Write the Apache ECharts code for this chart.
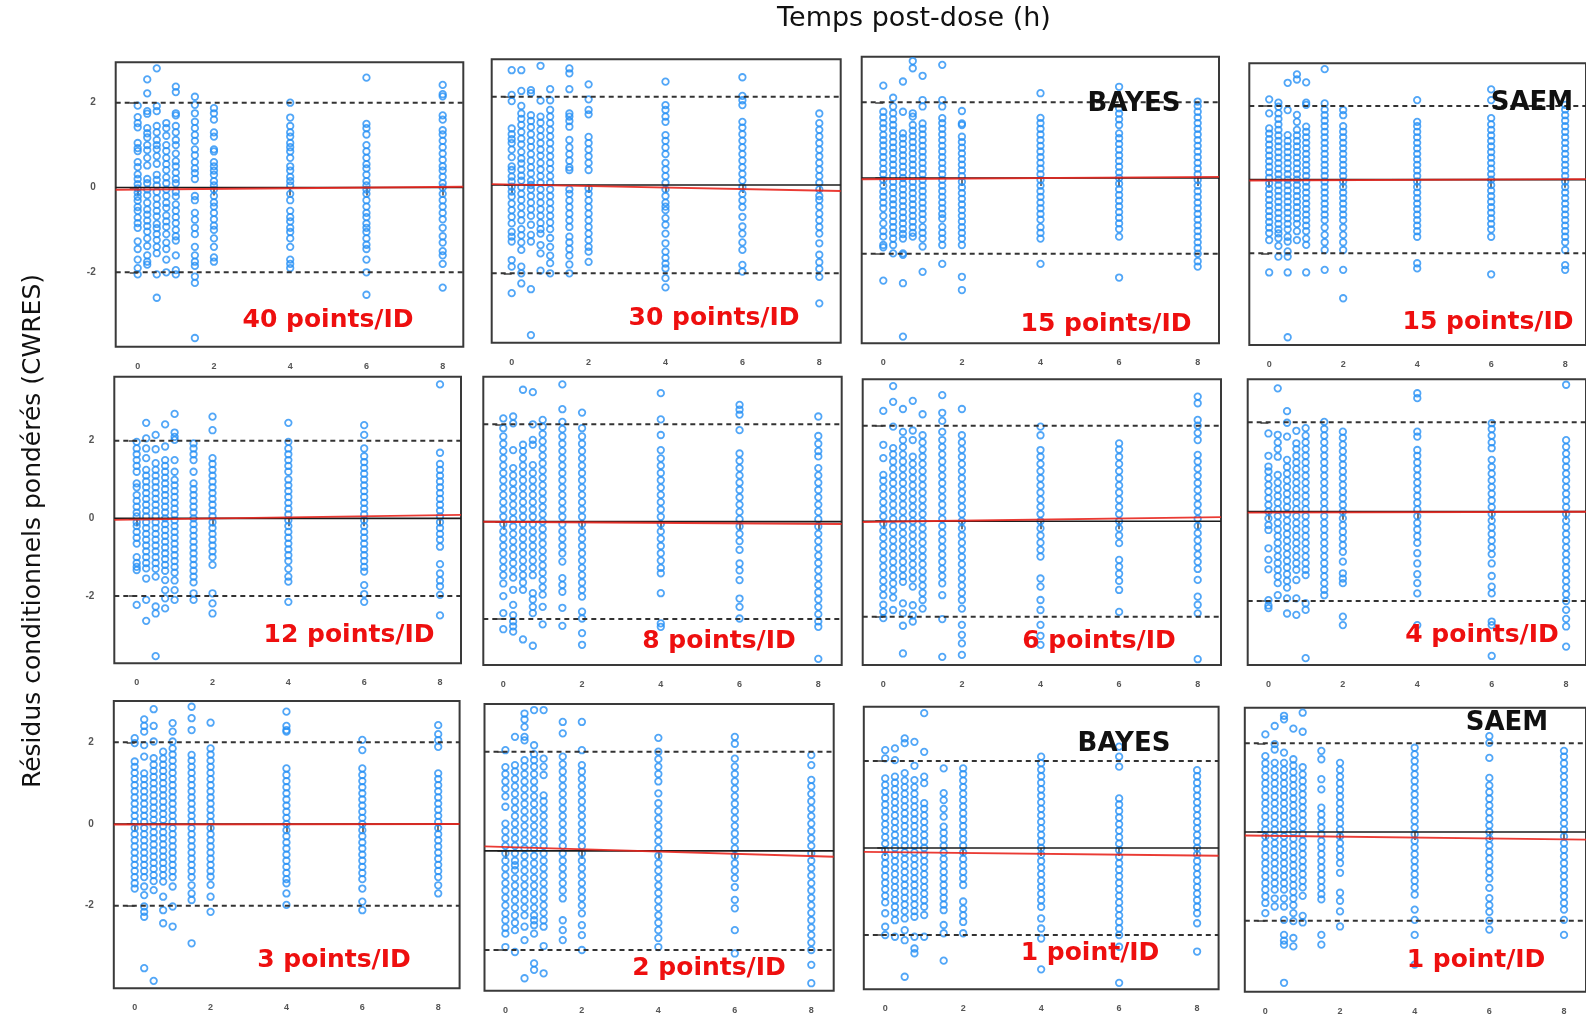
<!DOCTYPE html>
<html>
<head>
<meta charset="utf-8">
<script src="https://cdn.jsdelivr.net/npm/echarts@6/dist/echarts.min.js"></script>
<style>
  html, body { margin: 0; padding: 0; background: #ffffff; }
  #chart { width: 1586px; height: 1018px; }
</style>
</head>
<body>
<div id="chart"></div>
<script>
// Sampling times (h) shared by every panel
const times = [0, 0.25, 0.5, 0.75, 1, 1.5, 2, 4, 6, 8];
const xTicks = [0, 2, 4, 6, 8];
const yTicks = [-2, 0, 2];
const refBand = [-2, 2];

const panelTitles = ['40 points/ID', '30 points/ID', '15 points/ID', '15 points/ID',
                     '12 points/ID', '8 points/ID', '6 points/ID', '4 points/ID',
                     '3 points/ID', '2 points/ID', '1 point/ID', '1 point/ID'];
const methodTags = [null, null, 'BAYES', 'SAEM', null, null, null, null, null, null, 'BAYES', 'SAEM'];

// Fitted trend of CWRES vs time per panel: [intercept, slope]
const trend = [
  [-0.05, 0.008], [0.01, -0.017], [-0.03, 0.007], [-0.02, 0.004],
  [-0.03, 0.014], [-0.005, -0.005], [-0.01, 0.011], [-0.02, 0.002],
  [-0.01, 0.001], [0.077, -0.023], [-0.095, -0.0099], [-0.085, -0.01]
];

// CWRES values, one list per sampling time
const cwres40 = [
  [1.93,1.66,1.52,1.42,1.05,0.93,0.86,0.6,0.48,0.31,0.2,0.08,-0.02,-0.12,-0.22,-0.31,-0.46,-0.55,-0.71,-0.84,-0.95,-1.27,-1.45,-1.7,-1.9,-2.05],
  [2.55,2.22,1.8,1.74,1.4,1.28,1.18,1.0,0.88,0.7,0.52,0.2,0.1,-0.05,-0.18,-0.36,-0.52,-0.64,-0.78,-0.91,-1.04,-1.2,-1.38,-1.6,-1.75,-1.82],
  [2.81,1.92,1.8,1.45,1.3,1.12,1.0,0.9,0.74,0.56,0.3,0.18,0.05,-0.1,-0.26,-0.41,-0.55,-0.68,-0.86,-0.96,-1.1,-1.24,-1.4,-1.55,-2.05,-2.6],
  [1.52,1.4,1.22,1.0,0.86,0.7,0.55,0.41,0.24,0.1,-0.05,-0.2,-0.36,-0.48,-0.66,-0.8,-0.93,-1.1,-1.3,-1.45,-1.7,-2.0],
  [2.38,2.25,1.75,1.7,1.45,1.3,1.12,1.0,0.8,0.62,0.5,0.35,0.2,0.1,-0.1,-0.21,-0.4,-0.55,-0.7,-0.84,-1.0,-1.15,-1.25,-1.6,-1.95,-2.05],
  [2.14,1.95,1.75,1.55,1.4,1.24,1.1,0.9,0.76,0.6,0.45,0.34,0.2,-0.2,-0.3,-0.6,-0.76,-0.95,-1.1,-1.4,-1.6,-1.75,-1.85,-2.1,-2.25,-3.55],
  [1.87,1.75,1.6,1.3,1.2,0.9,0.85,0.6,0.5,0.4,0.3,0.15,0.05,-0.05,-0.2,-0.35,-0.45,-0.6,-0.75,-0.9,-1.0,-1.2,-1.4,-1.65,-1.75],
  [2.0,1.65,1.45,1.3,1.2,1.05,0.95,0.85,0.7,0.5,0.4,0.25,0.15,0.05,-0.15,-0.3,-0.55,-0.7,-0.8,-0.95,-1.05,-1.2,-1.4,-1.7,-1.8,-1.9],
  [2.59,1.5,1.4,1.25,1.0,0.85,0.7,0.55,0.45,0.3,0.15,0.05,-0.05,-0.15,-0.3,-0.45,-0.6,-0.7,-0.85,-0.95,-1.05,-1.2,-1.35,-1.45,-1.7,-2.0,-2.53],
  [2.42,2.2,2.15,1.7,1.6,1.35,1.25,1.1,0.95,0.8,0.65,0.5,0.4,0.25,0.1,0,-0.15,-0.3,-0.45,-0.6,-0.75,-0.95,-1.15,-1.3,-1.5,-1.6,-1.8,-2.36]
];
const cwres30 = [
  [2.6,2.04,1.9,1.28,1.15,1.04,0.95,0.8,0.63,0.42,0.34,0.19,0.08,-0.04,-0.15,-0.26,-0.42,-0.57,-0.72,-0.87,-1.06,-1.17,-1.28,-1.7,-1.85,-2.45],
  [2.6,2.13,1.79,1.62,1.5,1.36,1.2,1.05,0.92,0.75,0.6,0.49,0.35,0.21,0.1,-0.05,-0.2,-0.34,-0.5,-0.66,-0.8,-1.0,-1.14,-1.3,-1.47,-1.85,-2.0,-2.23],
  [2.15,2.08,1.58,1.45,1.31,1.15,1.0,0.86,0.7,0.55,0.4,0.26,0.1,0,-0.1,-0.25,-0.4,-0.55,-0.7,-0.9,-1.13,-1.28,-2.36,-3.4],
  [2.7,1.91,1.55,1.41,1.25,1.1,0.95,0.8,0.66,0.5,0.35,0.2,0.05,-0.1,-0.25,-0.4,-0.55,-0.7,-0.86,-1.0,-1.1,-1.36,-1.55,-1.94],
  [2.17,1.92,1.7,1.55,1.4,1.25,1.1,0.95,0.8,0.65,0.5,0.36,0.2,0.05,-0.1,-0.25,-0.4,-0.55,-0.7,-0.85,-1.0,-1.2,-1.4,-1.6,-1.77,-2.0],
  [2.64,2.53,2.17,1.62,1.55,1.45,1.32,1.02,0.85,0.7,0.55,0.4,0.34,-0.1,-0.2,-0.35,-0.5,-0.65,-0.8,-0.95,-1.17,-1.3,-1.45,-1.6,-1.8,-2.0],
  [2.28,1.94,1.7,1.6,1.09,0.95,0.8,0.65,0.5,0.34,-0.08,-0.2,-0.35,-0.5,-0.65,-0.8,-0.95,-1.1,-1.25,-1.4,-1.51,-1.74],
  [2.34,1.81,1.7,1.55,1.43,1.13,1.0,0.85,0.7,0.5,0.35,0.2,0.05,-0.1,-0.25,-0.4,-0.49,-0.57,-0.75,-0.9,-1.1,-1.32,-1.51,-1.65,-1.78,-1.89,-2.11,-2.32],
  [2.44,2.02,1.92,1.81,1.43,1.3,1.15,1.0,0.85,0.7,0.55,0.4,0.25,0.1,-0.05,-0.2,-0.35,-0.5,-0.72,-0.94,-1.1,-1.3,-1.47,-1.81,-1.96],
  [1.62,1.4,1.25,1.1,0.95,0.8,0.65,0.5,0.35,0.2,0.05,-0.1,-0.25,-0.34,-0.49,-0.65,-0.8,-0.95,-1.1,-1.32,-1.58,-1.75,-1.9,-2.08,-2.68]
];
const cwres15Bayes = [
  [2.44,1.75,1.6,1.45,1.31,1.14,1.0,0.86,0.7,0.55,0.4,0.24,0.1,-0.05,-0.2,-0.36,-0.5,-0.65,-0.8,-1.0,-1.2,-1.4,-1.55,-1.77,-1.83,-2.71],
  [2.12,1.89,1.71,1.55,1.4,1.26,1.1,0.95,0.8,0.66,0.5,0.35,0.2,0.05,-0.1,-0.25,-0.4,-0.56,-0.7,-0.85,-1.0,-1.15,-1.3,-1.45,-1.6,-1.77,-1.99],
  [2.55,1.75,1.18,1.05,0.9,0.75,0.6,0.45,0.3,0.15,0,-0.15,-0.3,-0.45,-0.6,-0.75,-0.9,-1.05,-1.2,-1.35,-1.48,-1.6,-1.99,-2.03,-2.78,-4.19],
  [3.09,2.9,1.71,1.62,1.4,1.25,1.1,0.95,0.8,0.65,0.5,0.35,0.2,0.05,-0.1,-0.25,-0.4,-0.55,-0.7,-0.85,-1.0,-1.15,-1.3,-1.45,-1.55],
  [2.7,2.06,1.89,1.44,1.3,1.15,1.0,0.85,0.7,0.55,0.4,0.25,0.1,-0.05,-0.2,-0.35,-0.5,-0.65,-0.8,-0.95,-1.1,-1.3,-1.45,-1.6,-1.81,-2.48],
  [2.99,2.06,1.89,1.58,1.45,1.3,1.15,1.0,0.85,0.7,0.55,0.4,0.25,0.1,-0.05,-0.2,-0.35,-0.5,-0.65,-0.8,-0.95,-1.07,-1.29,-1.45,-1.6,-1.77,-2.27],
  [1.77,1.44,1.4,1.09,0.95,0.8,0.65,0.5,0.35,0.2,0.05,-0.1,-0.25,-0.4,-0.55,-0.7,-0.85,-1.0,-1.15,-1.3,-1.45,-1.6,-1.77,-2.61,-2.96],
  [2.24,1.59,1.45,1.3,1.15,1.0,0.85,0.7,0.55,0.4,0.25,0.1,-0.05,-0.2,-0.35,-0.5,-0.65,-0.8,-0.95,-1.1,-1.3,-1.45,-1.6,-2.27],
  [2.41,1.84,1.7,1.55,1.4,1.18,1.05,0.9,0.75,0.6,0.45,0.3,0.15,0,-0.15,-0.3,-0.45,-0.6,-0.75,-0.9,-1.05,-1.2,-1.35,-1.55,-2.63],
  [2.02,1.9,1.75,1.6,1.45,1.3,1.15,1.0,0.85,0.7,0.55,0.4,0.25,0.1,-0.05,-0.2,-0.35,-0.5,-0.65,-0.8,-0.95,-1.1,-1.25,-1.4,-1.55,-1.7,-1.85,-2.0,-2.2,-2.34]
];
const cwres15Saem = [
  [2.18,1.8,1.39,1.25,1.1,0.95,0.8,0.65,0.5,0.35,0.2,0.05,-0.1,-0.25,-0.4,-0.55,-0.7,-0.85,-1.0,-1.15,-1.3,-1.45,-1.64,-2.52],
  [2.09,1.98,1.8,1.65,1.5,1.35,1.2,1.05,0.9,0.75,0.6,0.45,0.3,0.15,0,-0.15,-0.3,-0.45,-0.6,-0.75,-0.9,-1.05,-1.2,-1.35,-1.46,-1.59,-1.8,-2.09],
  [2.63,1.89,1.21,1.05,0.9,0.75,0.6,0.45,0.3,0.15,0,-0.15,-0.3,-0.45,-0.6,-0.75,-0.9,-1.05,-1.2,-1.35,-1.55,-1.68,-1.95,-2.09,-2.52,-4.28],
  [2.86,2.72,1.76,1.57,1.35,1.2,1.05,0.9,0.75,0.6,0.45,0.3,0.15,0,-0.15,-0.3,-0.45,-0.6,-0.75,-0.9,-1.05,-1.2,-1.4,-1.64],
  [2.64,2.09,2.03,1.44,1.3,1.15,1.0,0.85,0.7,0.55,0.4,0.25,0.1,-0.05,-0.2,-0.35,-0.5,-0.65,-0.8,-0.95,-1.1,-1.25,-1.4,-1.6,-1.77,-2.52],
  [3.0,2.07,1.9,1.75,1.6,1.45,1.3,1.15,1.0,0.85,0.7,0.55,0.4,0.25,0.1,-0.05,-0.2,-0.35,-0.5,-0.65,-0.8,-0.95,-1.1,-1.3,-1.5,-1.7,-1.91,-2.45],
  [1.89,1.75,1.45,1.3,1.15,1.0,0.85,0.7,0.55,0.4,0.25,0.1,-0.05,-0.2,-0.35,-0.5,-0.65,-0.8,-0.95,-1.1,-1.3,-1.5,-1.7,-1.91,-2.45,-3.22],
  [2.16,1.57,1.45,1.3,1.15,1.0,0.85,0.7,0.55,0.4,0.25,0.1,-0.05,-0.2,-0.35,-0.5,-0.65,-0.8,-0.95,-1.1,-1.25,-1.4,-1.55,-2.27,-2.41],
  [2.45,2.16,1.67,1.5,1.35,1.2,1.05,0.9,0.75,0.6,0.45,0.3,0.15,0,-0.15,-0.3,-0.45,-0.6,-0.75,-0.9,-1.05,-1.2,-1.35,-1.55,-2.57],
  [2.03,1.9,1.75,1.6,1.45,1.3,1.15,1.0,0.85,0.7,0.55,0.4,0.25,0.1,-0.05,-0.2,-0.35,-0.5,-0.65,-0.8,-0.95,-1.1,-1.25,-1.4,-1.55,-1.7,-1.91,-2.32,-2.45]
];
const cwres12 = [
  [1.97,1.8,1.65,1.5,1.35,1.2,0.9,0.8,0.6,0.45,0.3,0.15,0.05,-0.1,-0.2,-0.35,-0.5,-0.65,-1.0,-1.15,-1.25,-1.33,-2.23],
  [2.46,2.06,1.8,1.55,1.25,1.1,0.95,0.8,0.65,0.5,0.35,0.2,0.05,-0.1,-0.25,-0.4,-0.55,-0.7,-0.85,-1.0,-1.15,-1.29,-1.55,-2.1,-2.64],
  [2.15,1.78,1.42,1.25,1.1,0.95,0.8,0.65,0.5,0.35,0.2,0.05,-0.1,-0.25,-0.4,-0.55,-0.7,-0.85,-1.0,-1.15,-1.3,-1.5,-2.27,-2.45,-3.55],
  [2.42,1.85,1.5,1.35,1.2,1.05,0.9,0.75,0.6,0.45,0.3,0.15,0,-0.15,-0.3,-0.45,-0.6,-0.75,-0.9,-1.05,-1.2,-1.35,-1.59,-1.85,-2.06,-2.32],
  [2.69,2.21,2.1,2.02,1.5,1.2,0.99,0.85,0.7,0.55,0.4,0.25,0.1,-0.05,-0.2,-0.35,-0.5,-0.65,-0.8,-0.95,-1.1,-1.25,-1.4,-1.6,-1.85,-2.1],
  [1.93,1.8,1.65,1.5,1.2,0.9,0.75,0.6,0.45,0.3,0.15,0,-0.15,-0.3,-0.45,-0.6,-0.75,-0.9,-1.05,-1.2,-1.35,-1.5,-1.65,-1.93,-2.1],
  [2.62,2.27,1.55,1.4,1.25,1.1,0.95,0.8,0.65,0.5,0.35,0.2,0.05,-0.1,-0.25,-0.4,-0.55,-0.7,-0.85,-1.0,-1.2,-1.93,-2.19,-2.45],
  [2.46,1.97,1.8,1.65,1.5,1.35,1.2,1.0,0.85,0.7,0.55,0.4,0.25,0.1,-0.05,-0.2,-0.35,-0.5,-0.65,-0.8,-0.95,-1.1,-1.3,-1.5,-1.63,-2.15],
  [2.4,2.15,1.8,1.6,1.45,1.3,1.15,1.0,0.85,0.7,0.55,0.4,0.25,0.1,-0.05,-0.2,-0.35,-0.5,-0.65,-0.8,-0.95,-1.1,-1.25,-1.37,-1.72,-1.95,-2.15],
  [3.45,1.69,1.4,1.25,1.1,0.95,0.8,0.65,0.5,0.35,0.2,0.05,-0.1,-0.25,-0.4,-0.55,-0.73,-1.18,-1.42,-1.6,-1.75,-1.97,-2.5]
];
const cwres8 = [
  [2.12,1.92,1.75,1.6,1.45,1.3,1.15,1.0,0.85,0.7,0.55,0.4,0.25,0.1,-0.05,-0.2,-0.35,-0.5,-0.65,-0.8,-0.95,-1.1,-1.27,-1.53,-1.88,-2.21],
  [2.16,2.02,1.47,1.1,0.95,0.8,0.65,0.5,0.35,0.2,0.05,-0.1,-0.25,-0.4,-0.55,-0.7,-0.85,-1.0,-1.15,-1.4,-1.71,-1.92,-2.05,-2.15,-2.26],
  [2.71,1.58,1.45,1.3,1.15,1.0,0.85,0.7,0.55,0.4,0.25,0.1,-0.05,-0.2,-0.35,-0.5,-0.65,-0.8,-0.95,-1.1,-1.25,-1.4,-2.42],
  [2.66,2.0,1.68,1.58,1.16,1.0,0.85,0.7,0.55,0.4,0.25,0.1,-0.05,-0.2,-0.35,-0.5,-0.65,-0.8,-0.95,-1.1,-1.47,-1.6,-1.75,-1.88,-2.55],
  [2.09,1.95,1.8,1.65,1.5,1.35,1.2,1.05,0.9,0.75,0.6,0.45,0.3,0.15,0,-0.15,-0.3,-0.45,-0.6,-0.75,-0.9,-1.05,-1.2,-1.35,-1.5,-1.75,-2.11],
  [2.82,2.31,2.05,1.9,1.75,1.6,1.45,1.3,1.15,1.0,0.85,0.7,0.55,0.4,0.25,0.1,-0.05,-0.2,-0.35,-0.5,-0.65,-0.82,-1.16,-1.3,-1.44,-1.77,-2.14],
  [2.24,1.92,1.75,1.6,1.45,1.3,1.15,1.0,0.85,0.7,0.55,0.4,0.25,0.1,-0.05,-0.2,-0.35,-0.5,-0.65,-0.8,-0.95,-1.1,-1.25,-1.4,-1.54,-1.85,-1.99,-2.29,-2.53],
  [2.64,2.1,1.78,1.47,1.3,1.15,1.0,0.85,0.7,0.55,0.4,0.25,0.1,-0.05,-0.2,-0.35,-0.5,-0.65,-0.8,-0.95,-1.06,-1.47,-2.09,-2.16],
  [2.4,2.3,2.2,1.88,1.4,1.25,1.1,0.95,0.8,0.65,0.5,0.35,0.2,0.05,-0.1,-0.25,-0.4,-0.58,-0.86,-1.0,-1.2,-1.58,-1.75,-1.99],
  [2.16,1.76,1.6,1.45,1.34,1.1,0.95,0.8,0.65,0.5,0.35,0.2,0.05,-0.1,-0.25,-0.4,-0.55,-0.7,-0.85,-1.0,-1.15,-1.3,-1.45,-1.6,-1.75,-1.9,-2.05,-2.16,-2.82]
];
const cwres6 = [
  [2.31,1.6,1.32,0.97,0.85,0.7,0.55,0.4,0.25,0.1,-0.05,-0.2,-0.35,-0.5,-0.65,-0.8,-0.95,-1.1,-1.25,-1.4,-1.55,-1.75,-1.9,-2.03],
  [2.83,2.5,1.98,1.53,1.4,1.25,1.1,0.95,0.8,0.65,0.5,0.35,0.2,0.05,-0.1,-0.25,-0.4,-0.55,-0.7,-0.85,-1.0,-1.15,-1.3,-1.45,-1.6,-1.86],
  [2.35,1.87,1.7,1.55,1.4,1.25,1.1,0.95,0.8,0.65,0.5,0.35,0.2,0.05,-0.1,-0.25,-0.4,-0.55,-0.7,-0.85,-1.0,-1.15,-1.27,-1.72,-1.93,-2.19,-2.77],
  [2.52,1.9,1.7,1.35,1.2,1.05,0.9,0.75,0.6,0.45,0.3,0.15,0,-0.15,-0.3,-0.45,-0.6,-0.75,-0.9,-1.05,-1.2,-1.37,-1.76,-1.97,-2.1],
  [2.24,1.8,1.65,1.5,1.35,1.2,1.05,0.9,0.75,0.6,0.45,0.3,0.15,0,-0.15,-0.3,-0.45,-0.6,-0.75,-0.9,-1.05,-1.2,-1.35,-1.5,-1.65,-1.83],
  [2.64,2.27,2.1,1.87,1.7,1.55,1.4,1.25,1.1,0.95,0.8,0.65,0.5,0.35,0.2,0.05,-0.1,-0.25,-0.4,-0.55,-0.7,-0.85,-1.0,-1.15,-1.3,-1.55,-2.05,-2.84],
  [2.35,1.8,1.65,1.5,1.35,1.2,1.05,0.9,0.75,0.6,0.45,0.3,0.15,0,-0.15,-0.3,-0.45,-0.6,-0.75,-0.9,-1.05,-1.2,-1.35,-1.5,-1.65,-1.83,-2.17,-2.38,-2.56,-2.8],
  [1.98,1.8,1.49,1.35,1.2,1.05,0.9,0.75,0.6,0.45,0.3,0.15,0,-0.15,-0.3,-0.45,-0.6,-0.74,-1.2,-1.37,-1.65,-1.86,-2.17,-2.4,-2.59],
  [1.63,1.5,1.35,1.2,1.05,0.9,0.75,0.6,0.45,0.3,0.15,0,-0.15,-0.3,-0.46,-0.81,-0.95,-1.1,-1.25,-1.44,-1.9],
  [2.61,2.47,2.12,2.0,1.85,1.7,1.39,1.25,1.1,0.95,0.8,0.65,0.5,0.35,0.2,0.05,-0.1,-0.25,-0.4,-0.55,-0.7,-0.85,-1.0,-1.23,-1.58,-1.75,-1.93,-2.89]
];
const cwres4 = [
  [1.75,1.25,1.01,0.9,0.75,0.6,0.45,0.3,0.15,0,-0.15,-0.3,-0.41,-0.82,-1.08,-1.29,-1.98,-2.1,-2.16],
  [2.76,1.72,1.55,1.4,1.23,0.82,0.65,0.5,0.35,0.2,0.05,-0.1,-0.25,-0.4,-0.55,-0.7,-0.85,-1.0,-1.15,-1.3,-1.45,-1.6,-1.87],
  [2.25,1.99,1.68,1.16,1.0,0.85,0.7,0.55,0.4,0.25,0.1,-0.05,-0.2,-0.35,-0.5,-0.65,-0.8,-0.95,-1.1,-1.25,-1.4,-1.55,-1.7,-1.94,-2.28],
  [1.81,1.53,1.4,1.25,1.1,0.95,0.8,0.65,0.5,0.35,0.2,0.05,-0.1,-0.25,-0.4,-0.55,-0.7,-0.85,-1.0,-1.15,-1.3,-1.53,-1.94,-2.31],
  [1.87,1.7,1.55,1.4,1.25,1.1,0.95,0.8,0.65,0.5,0.35,0.2,0.05,-0.1,-0.25,-0.4,-0.55,-0.7,-0.85,-1.0,-1.15,-1.3,-1.42,-2.05,-2.2,-3.28],
  [2.01,1.85,1.7,1.55,1.4,1.25,1.1,0.95,0.8,0.65,0.5,0.35,0.2,0.05,-0.1,-0.25,-0.4,-0.55,-0.7,-0.85,-1.0,-1.15,-1.3,-1.45,-1.6,-1.75,-1.87],
  [1.79,1.65,1.5,1.35,1.2,1.05,0.9,0.75,0.6,0.45,0.3,0.15,0,-0.15,-0.3,-0.45,-0.6,-0.75,-0.9,-1.12,-1.38,-1.5,-1.6,-2.35,-2.54],
  [2.65,2.54,1.79,1.68,1.38,1.25,1.1,0.95,0.8,0.65,0.5,0.35,0.2,0.05,-0.1,-0.25,-0.4,-0.55,-0.7,-0.93,-1.16,-1.4,-1.6,-1.83,-2.54],
  [1.98,1.85,1.7,1.55,1.42,1.16,1.0,0.85,0.7,0.55,0.4,0.25,0.1,-0.05,-0.2,-0.35,-0.5,-0.65,-0.8,-0.95,-1.16,-1.44,-1.68,-1.83,-2.46,-2.54,-3.23],
  [2.84,1.6,1.45,1.3,1.15,1.0,0.85,0.7,0.55,0.4,0.25,0.1,-0.05,-0.2,-0.35,-0.5,-0.65,-0.8,-0.95,-1.1,-1.25,-1.4,-1.55,-1.7,-1.85,-2.0,-2.2,-2.4,-2.57,-3.02]
];
const cwres3 = [
  [2.1,1.98,1.53,1.4,1.25,1.1,0.95,0.8,0.65,0.5,0.35,0.2,0.05,-0.1,-0.25,-0.4,-0.55,-0.7,-0.85,-1.0,-1.15,-1.3,-1.45,-1.58],
  [2.56,2.4,2.26,1.93,1.65,1.24,1.1,0.95,0.8,0.65,0.5,0.35,0.2,0.05,-0.1,-0.25,-0.4,-0.55,-0.7,-0.85,-1.0,-1.15,-1.3,-1.53,-1.74,-2.02,-2.15,-2.27,-3.53],
  [2.81,2.4,2.02,1.61,1.45,1.3,1.15,1.0,0.85,0.7,0.55,0.4,0.25,0.1,-0.05,-0.2,-0.35,-0.5,-0.65,-0.8,-0.95,-1.1,-1.25,-1.4,-1.62,-3.84],
  [1.77,1.6,1.45,1.3,1.15,1.0,0.85,0.7,0.55,0.4,0.25,0.1,-0.05,-0.2,-0.35,-0.5,-0.65,-0.8,-0.95,-1.1,-1.25,-1.41,-1.78,-2.11,-2.43],
  [2.47,2.26,2.02,1.85,1.7,1.55,1.4,1.25,1.1,0.95,0.8,0.65,0.5,0.35,0.2,0.05,-0.1,-0.25,-0.4,-0.55,-0.7,-0.85,-1.0,-1.15,-1.3,-1.53,-2.02,-2.51],
  [2.87,2.59,2.3,1.69,1.55,1.4,1.25,1.1,0.95,0.8,0.65,0.5,0.35,0.2,0.05,-0.1,-0.25,-0.4,-0.55,-0.7,-0.85,-1.0,-1.15,-1.3,-1.5,-1.7,-1.86,-2.92],
  [2.48,1.85,1.7,1.55,1.4,1.25,1.1,0.95,0.8,0.65,0.5,0.35,0.2,0.05,-0.1,-0.25,-0.4,-0.55,-0.7,-0.85,-1.0,-1.15,-1.29,-1.49,-1.78,-2.15],
  [2.75,2.4,2.3,2.26,1.36,1.2,1.05,0.9,0.75,0.6,0.45,0.3,0.15,0,-0.15,-0.3,-0.45,-0.6,-0.75,-0.9,-1.05,-1.2,-1.35,-1.45,-1.7,-1.98],
  [2.06,1.81,1.36,1.2,1.05,0.9,0.75,0.6,0.45,0.3,0.15,0,-0.15,-0.3,-0.45,-0.6,-0.75,-0.9,-1.05,-1.2,-1.35,-1.58,-1.9,-2.11],
  [2.42,2.2,2.05,1.89,1.24,1.1,0.95,0.8,0.65,0.5,0.35,0.2,0.05,-0.1,-0.25,-0.4,-0.55,-0.7,-0.85,-1.0,-1.15,-1.3,-1.5,-1.7]
];
const cwres2 = [
  [2.03,1.69,1.55,1.4,1.25,1.1,0.89,0.55,0.4,0.25,0.1,-0.05,-0.2,-0.35,-0.5,-0.65,-0.8,-0.95,-1.1,-1.26,-1.4,-1.55,-1.67,-1.94],
  [2.3,1.73,1.6,1.45,1.3,1.15,1.0,0.85,0.7,0.55,0.4,0.25,0.1,-0.05,-0.2,-0.29,-0.39,-0.55,-0.7,-0.85,-1.0,-1.15,-1.3,-1.45,-1.6,-2.04],
  [2.77,2.65,2.5,2.3,2.23,1.83,1.7,1.55,1.4,1.25,1.1,0.95,0.8,0.65,0.5,0.35,0.2,0.05,-0.1,-0.25,-0.4,-0.55,-0.7,-0.85,-1.0,-1.15,-1.3,-1.53,-1.8,-2.57],
  [2.84,2.13,1.95,1.83,1.7,1.55,1.4,1.25,1.1,0.95,0.8,0.65,0.5,0.35,0.2,0.05,-0.1,-0.25,-0.4,-0.55,-0.7,-0.85,-1.0,-1.15,-1.3,-1.4,-1.5,-1.67,-2.27,-2.4],
  [2.84,1.86,1.7,1.53,1.12,1.0,0.85,0.7,0.55,0.4,0.25,0.1,-0.05,-0.2,-0.35,-0.5,-0.65,-0.8,-0.95,-1.1,-1.25,-1.4,-1.53,-1.92,-2.47],
  [2.6,2.37,1.9,1.75,1.6,1.45,1.3,1.15,1.0,0.85,0.7,0.55,0.4,0.25,0.1,-0.05,-0.2,-0.35,-0.5,-0.65,-0.8,-0.96,-1.4,-1.6,-1.8],
  [2.6,2.03,1.73,1.6,1.45,1.3,1.15,1.0,0.85,0.7,0.55,0.4,0.25,0.1,-0.05,-0.2,-0.35,-0.5,-0.65,-0.8,-0.95,-1.1,-1.26,-1.5,-1.7,-2.0],
  [2.28,2.0,1.85,1.7,1.55,1.4,1.16,0.96,0.8,0.65,0.5,0.35,0.2,0.05,-0.1,-0.25,-0.4,-0.55,-0.7,-0.85,-1.0,-1.15,-1.3,-1.45,-1.6,-1.76,-1.94],
  [2.3,2.16,1.86,1.7,1.55,1.4,1.25,1.1,0.95,0.8,0.65,0.5,0.35,0.2,0.05,-0.1,-0.25,-0.4,-0.55,-0.73,-0.99,-1.16,-1.6,-2.07],
  [1.93,1.73,1.43,1.3,1.15,1.0,0.85,0.7,0.55,0.4,0.25,0.1,-0.05,-0.2,-0.35,-0.5,-0.65,-0.8,-0.95,-1.1,-1.25,-1.4,-1.55,-1.7,-1.85,-2.0,-2.3,-2.67]
];
const cwres1Bayes = [
  [2.25,2.06,1.6,1.45,1.3,1.15,1.0,0.85,0.7,0.55,0.4,0.25,0.1,-0.05,-0.2,-0.35,-0.5,-0.65,-0.8,-0.95,-1.1,-1.25,-1.5,-1.81,-2.0],
  [2.29,2.02,1.64,1.5,1.35,1.2,1.05,0.9,0.75,0.6,0.45,0.3,0.15,0,-0.15,-0.3,-0.45,-0.6,-0.75,-0.9,-1.05,-1.2,-1.35,-1.5,-1.66,-2.04],
  [2.52,2.41,1.72,1.55,1.4,1.25,1.1,0.95,0.8,0.65,0.5,0.35,0.2,0.05,-0.1,-0.25,-0.4,-0.55,-0.7,-0.85,-1.0,-1.15,-1.3,-1.45,-1.62,-1.89,-2.12,-2.96],
  [2.44,1.89,1.56,1.4,1.25,1.1,0.95,0.8,0.65,0.5,0.35,0.2,0.05,-0.1,-0.25,-0.4,-0.55,-0.7,-0.85,-1.0,-1.15,-1.3,-1.45,-1.58,-2.04,-2.31,-2.42],
  [3.1,2.21,1.64,1.49,1.03,0.9,0.75,0.6,0.45,0.3,0.15,0,-0.15,-0.3,-0.45,-0.6,-0.75,-0.9,-1.05,-1.2,-1.35,-1.54,-2.04],
  [1.83,1.26,1.1,0.9,0.72,0.49,0.35,0.2,0.05,-0.1,-0.25,-0.4,-0.55,-0.7,-0.85,-1.0,-1.15,-1.3,-1.43,-1.77,-1.96,-2.59],
  [1.83,1.7,1.55,1.4,1.25,1.1,0.95,0.8,0.65,0.5,0.35,0.2,0.05,-0.1,-0.25,-0.4,-0.55,-0.7,-0.85,-1.23,-1.4,-1.55,-1.7,-1.96],
  [2.1,1.95,1.8,1.65,1.5,1.35,1.2,1.05,0.9,0.75,0.6,0.45,0.3,0.15,0,-0.15,-0.3,-0.45,-0.6,-0.75,-0.9,-1.05,-1.2,-1.35,-1.62,-1.85,-2.08,-2.79],
  [2.33,2.1,1.87,1.14,1.0,0.85,0.7,0.55,0.4,0.25,0.1,-0.05,-0.2,-0.35,-0.5,-0.65,-0.8,-0.95,-1.1,-1.25,-1.4,-1.55,-1.7,-1.85,-2.0,-2.27,-3.1],
  [1.79,1.65,1.5,1.35,1.2,1.05,0.9,0.75,0.6,0.45,0.3,0.15,0,-0.15,-0.3,-0.45,-0.6,-0.75,-0.9,-1.05,-1.2,-1.35,-1.5,-1.73,-2.38]
];
const cwres1Saem = [
  [2.2,1.71,1.55,1.4,1.25,1.1,0.95,0.8,0.65,0.5,0.35,0.2,0.05,-0.1,-0.25,-0.4,-0.55,-0.7,-0.85,-1.0,-1.15,-1.3,-1.45,-1.6,-1.83],
  [2.39,1.98,1.86,1.56,1.4,1.25,1.1,0.95,0.8,0.65,0.5,0.35,0.2,0.05,-0.1,-0.25,-0.4,-0.55,-0.7,-0.85,-1.0,-1.15,-1.3,-1.5,-1.68],
  [2.62,2.54,1.79,1.56,1.4,1.25,1.1,0.95,0.8,0.65,0.5,0.35,0.2,0.05,-0.1,-0.25,-0.4,-0.55,-0.7,-0.85,-1.0,-1.15,-1.3,-1.5,-1.68,-1.98,-2.32,-2.45,-2.54,-3.4],
  [2.33,1.64,1.5,1.35,1.2,1.05,0.9,0.75,0.6,0.45,0.3,0.15,0,-0.15,-0.3,-0.45,-0.6,-0.75,-0.9,-1.05,-1.2,-1.35,-1.5,-1.65,-1.83,-2.01,-2.39,-2.58],
  [2.69,2.26,1.46,1.3,1.15,1.0,0.85,0.7,0.55,0.4,0.25,0.1,-0.05,-0.2,-0.35,-0.5,-0.65,-0.8,-0.95,-1.1,-1.25,-1.44,-1.89,-2.04],
  [1.83,1.64,1.19,0.96,0.55,0.4,0.25,0.1,-0.05,-0.2,-0.35,-0.5,-0.65,-0.8,-0.95,-1.1,-1.25,-1.4,-1.52,-2.32,-2.54],
  [1.56,1.4,1.25,1.1,0.95,0.8,0.65,0.5,0.35,0.2,0.05,-0.1,-0.25,-0.4,-0.55,-0.7,-0.92,-1.37,-1.55,-1.79,-2.13],
  [1.9,1.75,1.6,1.45,1.3,1.15,1.0,0.85,0.7,0.55,0.4,0.25,0.1,-0.05,-0.2,-0.35,-0.5,-0.65,-0.8,-0.95,-1.1,-1.25,-1.41,-1.75,-1.98,-2.32,-2.99],
  [2.16,2.01,1.67,1.22,1.05,0.9,0.75,0.6,0.45,0.3,0.15,0,-0.15,-0.3,-0.45,-0.6,-0.75,-0.9,-1.05,-1.26,-1.49,-1.65,-1.8,-2.0,-2.2],
  [1.83,1.7,1.55,1.4,1.25,1.1,0.95,0.8,0.65,0.5,0.35,0.2,0.05,-0.1,-0.25,-0.4,-0.55,-0.7,-0.85,-1.0,-1.15,-1.3,-1.45,-1.6,-1.75,-1.98,-2.32]
];

const panelData = [cwres40, cwres30, cwres15Bayes, cwres15Saem, cwres12, cwres8,
                   cwres6, cwres4, cwres3, cwres2, cwres1Bayes, cwres1Saem];

// Page layout of each panel (pixels): plot box [left, top, right, bottom],
// pixel columns of t=0 and t=8, pixel rows of CWRES=+2 and -2, label anchors.
const layout = [
  { box: [115.7, 62.3, 463.3, 346.7], x: [137.7, 442.7], y: [102.7, 272.3], yLab: true,  lab: [328, 320] },
  { box: [491.7, 59.3, 840.7, 342.7], x: [511.7, 819.3], y: [96.7, 273.3],  yLab: false, lab: [714, 318] },
  { box: [861.7, 56.7, 1219, 343.3],  x: [883.3, 1197.7], y: [102.3, 253.7], yLab: false, lab: [1106, 324], tag: [1134, 104] },
  { box: [1249.3, 63.3, 1600, 345],   x: [1270, 1578.3], y: [106, 253.3],   yLab: false, lab: [1488, 322], tag: [1532, 103] },
  { box: [114.3, 376.7, 461, 663.3],  x: [136.7, 440],   y: [440.7, 596],   yLab: true,  lab: [349, 635] },
  { box: [483.3, 376.7, 841.7, 665],  x: [503.3, 818.3], y: [424.3, 619],   yLab: false, lab: [719, 641] },
  { box: [862.7, 379.3, 1221, 665],   x: [883.3, 1197.7], y: [425.7, 616.7], yLab: false, lab: [1099, 641] },
  { box: [1247.7, 379.3, 1600, 665],  x: [1269.3, 1579.3], y: [422.3, 601], yLab: false, lab: [1482, 635] },
  { box: [113.8, 701, 459.6, 988.3],  x: [134.7, 438.2], y: [742.3, 905.7], yLab: true,  lab: [334, 960] },
  { box: [484.5, 704, 833.7, 990.7],  x: [505.4, 811.3], y: [751.7, 950],   yLab: false, lab: [709, 968] },
  { box: [863.8, 706.7, 1218.6, 989.3], x: [885.2, 1197.1], y: [761, 935], yLab: false, lab: [1090, 953], tag: [1124, 744] },
  { box: [1244.8, 707.7, 1600, 991.7], x: [1266.2, 1577.1], y: [743.3, 920.7], yLab: false, lab: [1476, 960], tag: [1507, 723] }
];

const POINT_BLUE = '#2690f5';
const TICK_GREY = '#444444';

const grids = [], xAxes = [], yAxes = [], series = [], graphics = [];

layout.forEach((p, i) => {
  const [L, T, R, B] = p.box;
  const xu = (p.x[1] - p.x[0]) / 8;
  const xmin = (L - p.x[0]) / xu;
  const xmax = (R - p.x[0]) / xu;
  const yu = (p.y[1] - p.y[0]) / 4;
  const yz = (p.y[0] + p.y[1]) / 2;
  const ymax = (yz - T) / yu;
  const ymin = -(B - yz) / yu;

  grids.push({
    left: L, top: T, width: R - L, height: B - T,
    show: true, borderColor: '#3a3a3a', borderWidth: 2, backgroundColor: 'transparent'
  });

  xAxes.push({
    type: 'value', gridIndex: i, min: xmin, max: xmax,
    axisLine: { show: false }, splitLine: { show: false },
    axisTick: { show: true, length: 8, customValues: xTicks, lineStyle: { color: TICK_GREY, width: 1.5 } },
    axisLabel: { show: true, customValues: xTicks, margin: 15, fontSize: 9, fontWeight: 'bold',
                 color: '#555555', fontFamily: 'Liberation Sans' }
  });

  yAxes.push({
    type: 'value', gridIndex: i, min: ymin, max: ymax, offset: 3,
    axisLine: { show: false }, splitLine: { show: false },
    axisTick: { show: true, length: 8, customValues: yTicks, lineStyle: { color: TICK_GREY, width: 1.5 } },
    axisLabel: { show: p.yLab, customValues: yTicks, margin: 17, fontSize: 10, fontWeight: 'bold',
                 color: '#555555', fontFamily: 'Liberation Sans' }
  });

  // residual points
  const pts = [];
  panelData[i].forEach((col, j) => col.forEach(v => pts.push([times[j], v])));
  series.push({
    type: 'scatter', xAxisIndex: i, yAxisIndex: i, data: pts, silent: true, z: 2,
    symbol: 'circle', symbolSize: 6.5,
    itemStyle: { color: 'rgba(0,0,0,0)', borderColor: POINT_BLUE, borderWidth: 1.8 }
  });

  // +/-2 reference band
  refBand.forEach(level => series.push({
    type: 'line', xAxisIndex: i, yAxisIndex: i, silent: true, z: 3, symbol: 'none',
    data: [[xmin, level], [xmax, level]],
    lineStyle: { color: '#333333', width: 2, type: [5, 4] }
  }));

  // zero line
  series.push({
    type: 'line', xAxisIndex: i, yAxisIndex: i, silent: true, z: 3, symbol: 'none',
    data: [[xmin, 0], [xmax, 0]],
    lineStyle: { color: '#1c1c1c', width: 1.6 }
  });

  // fitted trend
  const [a, b] = trend[i];
  series.push({
    type: 'line', xAxisIndex: i, yAxisIndex: i, silent: true, z: 4, symbol: 'none',
    data: [[xmin, a + b * xmin], [xmax, a + b * xmax]],
    lineStyle: { color: '#e8261e', width: 1.9, opacity: 0.9 }
  });

  graphics.push({
    type: 'text', x: p.lab[0], y: p.lab[1], z: 10,
    style: { text: panelTitles[i], fill: '#ee0f0f', textAlign: 'center', textVerticalAlign: 'middle',
             font: 'bold 25px "DejaVu Sans"' }
  });
  if (methodTags[i]) {
    graphics.push({
      type: 'text', x: p.tag[0], y: p.tag[1], z: 10,
      style: { text: methodTags[i], fill: '#111111', textAlign: 'center', textVerticalAlign: 'middle',
               font: 'bold 26px "DejaVu Sans"' }
    });
  }
});

graphics.push({
  type: 'text', x: 914, y: 19, z: 10,
  style: { text: 'Temps post-dose (h)', fill: '#111111', textAlign: 'center', textVerticalAlign: 'middle',
           font: '27px "DejaVu Sans"' }
});
graphics.push({
  type: 'text', x: 33, y: 531, rotation: Math.PI / 2, z: 10,
  style: { text: 'Résidus conditionnels pondérés (CWRES)', fill: '#111111', textAlign: 'center',
           textVerticalAlign: 'middle', font: '25px "DejaVu Sans"' }
});

const chart = echarts.init(document.getElementById('chart'), null, { renderer: 'canvas' });
chart.setOption({
  animation: false,
  backgroundColor: '#ffffff',
  grid: grids,
  xAxis: xAxes,
  yAxis: yAxes,
  series: series,
  graphic: graphics
});
</script>
</body>
</html>
